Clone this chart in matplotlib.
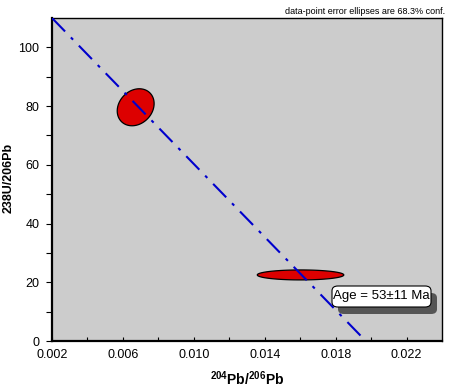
import numpy as np
import matplotlib
matplotlib.use("Agg")
import matplotlib.pyplot as plt
from matplotlib.patches import FancyBboxPatch

# Data
ell_cx = [0.00672, 0.01602]
ell_cy = [79.6, 22.5]
ell_hx = [0.00104, 0.00244]   # half widths (x)
ell_hy = [6.3, 1.7]           # half heights (y)
ell_phi = [0.2, 0.0]          # tilt parameter
iso_x = [0.002, 0.0197]
iso_y = [110.0, 0.0]
xticks = [0.002, 0.006, 0.010, 0.014, 0.018, 0.022]
xticklabels = ["0.002", "0.006", "0.010", "0.014", "0.018", "0.022"]
yticks = [0, 20, 40, 60, 80, 100]
age_text = "Age = 53±11 Ma"

plt.rcParams['font.family'] = ['Liberation Sans', 'DejaVu Sans']
plt.rcParams['mathtext.fontset'] = 'custom'
plt.rcParams['mathtext.rm'] = 'Liberation Sans'
plt.rcParams['mathtext.bf'] = 'Liberation Sans:bold'
fig = plt.figure(figsize=(4.56, 3.92), dpi=100)
ax = fig.add_axes([52/456, 1 - 341/392, 390/456, 323/392])
ax.set_facecolor('#cccccc')
ax.set_xlim(0.002, 0.024)
ax.set_ylim(0, 110)

t = np.linspace(0, 2*np.pi, 200)
for cx, cy, hx, hy, ph in zip(ell_cx, ell_cy, ell_hx, ell_hy, ell_phi):
    xs = cx + hx*np.cos(t)
    ys = cy + hy*np.sin(t + ph)
    ax.fill(xs, ys, facecolor='#dd0000', edgecolor='black', linewidth=0.9, zorder=2)

ax.plot(iso_x, iso_y, color='#0000cc', linewidth=1.5,
        dashes=(9, 4, 1.5, 4), zorder=3, clip_on=True)

ax.set_xticks(xticks)
ax.set_xticklabels(xticklabels, fontsize=9)
ax.set_xticks(np.arange(0.004, 0.024, 0.004), minor=True)
ax.set_yticks(yticks)
ax.set_yticklabels([str(v) for v in yticks], fontsize=9)
ax.set_yticks(np.arange(10, 110, 20), minor=True)
ax.tick_params(axis='x', which='both', direction='in', length=3, width=0.8, pad=6)
ax.tick_params(axis='y', which='both', direction='out', length=4, width=0.8, pad=5)

for s in ['left', 'bottom']:
    ax.spines[s].set_linewidth(1.6)
for s in ['top', 'right']:
    ax.spines[s].set_linewidth(1.0)

ax.set_xlabel(r"$^{\mathbf{204}}$Pb/$^{\mathbf{206}}$Pb", fontsize=10, fontweight='bold', labelpad=6)
fig.text(8.5/456, 1 - 178/392, "238U/206Pb", rotation=90, ha='center', va='center',
         fontsize=9, fontweight='bold')

fig.text(445/456, 1 - 12/392, "data-point error ellipses are 68.3% conf.",
         ha='right', va='center', fontsize=6.5)

# Age box with shadow (axes fraction coords)
bx0, by0, bw, bh = (332-52)/390, (341-307)/323, 99/390, 21/323
shadow = FancyBboxPatch((bx0 + 6/390, by0 - 7/323), bw, bh,
                        boxstyle="round,pad=0,rounding_size=0.015",
                        transform=ax.transAxes, facecolor='#555555',
                        edgecolor='none', zorder=4)
box = FancyBboxPatch((bx0, by0), bw, bh,
                     boxstyle="round,pad=0,rounding_size=0.015",
                     transform=ax.transAxes, facecolor='white',
                     edgecolor='black', linewidth=0.8, zorder=5)
ax.add_patch(shadow)
ax.add_patch(box)
ax.text(bx0 + bw/2, by0 + bh/2, age_text, transform=ax.transAxes,
        ha='center', va='center', fontsize=9.5, zorder=6)

fig.savefig("out.png", dpi=100)
